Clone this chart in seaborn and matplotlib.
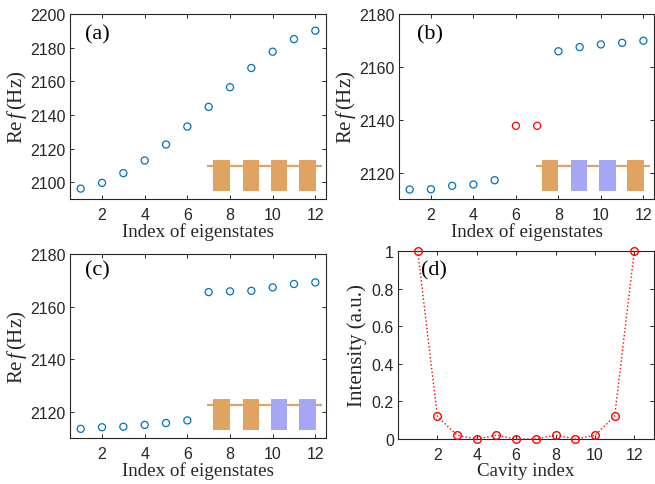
import numpy as np
import pandas as pd
import matplotlib
matplotlib.use("Agg")
import matplotlib.pyplot as plt
from matplotlib.patches import Rectangle
import seaborn as sns

# ---------------- data ----------------
idx = list(range(1, 13))
freq_a = [2096.2, 2099.6, 2105.4, 2112.9, 2122.4, 2133.1, 2144.8, 2156.5, 2167.9, 2177.6, 2185.1, 2190.1]
freq_b = [2113.6, 2113.7, 2115.0, 2115.5, 2117.1, 2137.7, 2137.7, 2165.9, 2167.5, 2168.5, 2169.1, 2169.9]
edge_b = [False, False, False, False, False, True, True, False, False, False, False, False]
freq_c = [2113.5, 2114.1, 2114.3, 2115.0, 2115.7, 2116.7, 2165.5, 2165.8, 2166.0, 2167.3, 2168.6, 2169.2]
cavity = list(range(1, 13))
intensity = [1.0, 0.12, 0.02, 0.0, 0.02, 0.0, 0.0, 0.02, 0.0, 0.02, 0.12, 1.0]

inset_a = ["A", "A", "A", "A"]
inset_b = ["A", "B", "B", "A"]
inset_c = ["A", "A", "B", "B"]

xticks_main = [2, 4, 6, 8, 10, 12]
yticks_a = [2100, 2120, 2140, 2160, 2180, 2200]
yticks_bc = [2120, 2140, 2160, 2180]
yticks_d = [0, 0.2, 0.4, 0.6, 0.8, 1]
yticklabels_d = ["0", "0.2", "0.4", "0.6", "0.8", "1"]

# ---------------- style ----------------
BLUE = "#0072BD"
RED = "#FF0000"
ORANGE = "#E0A462"
PURPLE = "#A6A6F6"
AX = "#262626"

sns.set_style("ticks")
plt.rcParams["font.family"] = ["Liberation Sans", "DejaVu Sans"]
plt.rcParams["mathtext.fontset"] = "custom"
plt.rcParams["mathtext.rm"] = "Liberation Serif"
plt.rcParams["mathtext.it"] = "Liberation Serif:italic"

SERIF = ["Liberation Serif", "DejaVu Serif"]
TICK_FS = 11.5
XLAB_FS = 13.7
YLAB_FS = 15
PANEL_FS = 16

fig = plt.figure(figsize=(6.55, 4.85), dpi=100)
axa = fig.add_axes([0.1069, 0.5876, 0.3908, 0.3814])
axb = fig.add_axes([0.6092, 0.5876, 0.3893, 0.3814])
axc = fig.add_axes([0.1069, 0.0948, 0.3908, 0.3794])
axd = fig.add_axes([0.6076, 0.0928, 0.3909, 0.3876])


def style_axes(ax):
    for s in ax.spines.values():
        s.set_color(AX)
        s.set_linewidth(0.8)
        s.set_visible(True)
    ax.tick_params(direction="in", length=3, width=0.7, colors=AX,
                   top=True, right=True, labelsize=TICK_FS, pad=3)
    ax.tick_params(axis="x", pad=6)
    for lab in ax.get_xticklabels() + ax.get_yticklabels():
        lab.set_color(AX)


def draw_inset(ax, kinds, ybottom=0.043):
    cmap = {"A": ORANGE, "B": PURPLE}
    ax.plot([0.537, 0.984], [0.178, 0.178], transform=ax.transAxes,
            color=ORANGE, lw=1.6, zorder=3, solid_capstyle="butt")
    starts = [0.560, 0.674, 0.785, 0.896]
    w = 0.064
    for x0, k in zip(starts, kinds):
        ax.add_patch(Rectangle((x0, ybottom), w, 0.211 - ybottom,
                               transform=ax.transAxes, facecolor=cmap[k],
                               edgecolor="none", zorder=4))


def scatter(ax, x, y, color):
    sns.scatterplot(x=x, y=y, ax=ax, marker="o", s=26, facecolor="none",
                    edgecolor=color, linewidth=0.9, zorder=5, legend=False)


def ylabel_re(ax):
    ax.set_ylabel(r"Re$\,\it{f}\,$(Hz)", fontsize=YLAB_FS, family=SERIF,
                  color=AX, labelpad=1)


def xlabel(ax, txt):
    ax.set_xlabel(txt, fontsize=XLAB_FS, family=SERIF, color=AX, labelpad=0)


# (a)
scatter(axa, idx, freq_a, BLUE)
axa.set_xlim(0.5, 12.5)
axa.set_ylim(2090, 2200)
axa.set_xticks(xticks_main)
axa.set_yticks(yticks_a)
draw_inset(axa, inset_a)
ylabel_re(axa)
xlabel(axa, "Index of eigenstates")
axa.text(0.058, 0.895, "(a)", transform=axa.transAxes, fontsize=PANEL_FS,
         family=SERIF, va="center", ha="left", color="black")
style_axes(axa)

# (b)
df_b = pd.DataFrame({"idx": idx, "f": freq_b, "edge": edge_b})
bulk = df_b[~df_b["edge"]]
edge = df_b[df_b["edge"]]
scatter(axb, bulk["idx"], bulk["f"], BLUE)
scatter(axb, edge["idx"], edge["f"], RED)
axb.set_xlim(0.5, 12.5)
axb.set_ylim(2110, 2180)
axb.set_xticks(xticks_main)
axb.set_yticks(yticks_bc)
draw_inset(axb, inset_b)
ylabel_re(axb)
xlabel(axb, "Index of eigenstates")
axb.text(0.07, 0.895, "(b)", transform=axb.transAxes, fontsize=PANEL_FS,
         family=SERIF, va="center", ha="left", color="black")
style_axes(axb)

# (c)
scatter(axc, idx, freq_c, BLUE)
axc.set_xlim(0.5, 12.5)
axc.set_ylim(2110, 2180)
axc.set_xticks(xticks_main)
axc.set_yticks(yticks_bc)
draw_inset(axc, inset_c)
ylabel_re(axc)
xlabel(axc, "Index of eigenstates")
axc.text(0.058, 0.912, "(c)", transform=axc.transAxes, fontsize=PANEL_FS,
         family=SERIF, va="center", ha="left", color="black")
style_axes(axc)

# (d)
sns.lineplot(x=cavity, y=intensity, ax=axd, color=RED, linestyle=":", lw=1.0,
             marker="o", markersize=5.5, markerfacecolor="none",
             markeredgecolor=RED, markeredgewidth=1.0, zorder=5, clip_on=False)
axd.set_xlim(0, 13)
axd.set_ylim(0, 1)
axd.set_xticks(xticks_main)
axd.set_yticks(yticks_d)
axd.set_yticklabels(yticklabels_d)
axd.set_ylabel("Intensity (a.u.)", fontsize=YLAB_FS, family=SERIF, color=AX, labelpad=3)
xlabel(axd, "Cavity index")
axd.text(0.088, 0.9, "(d)", transform=axd.transAxes, fontsize=PANEL_FS,
         family=SERIF, va="center", ha="left", color="black")
style_axes(axd)

fig.savefig("out.png", dpi=100)
